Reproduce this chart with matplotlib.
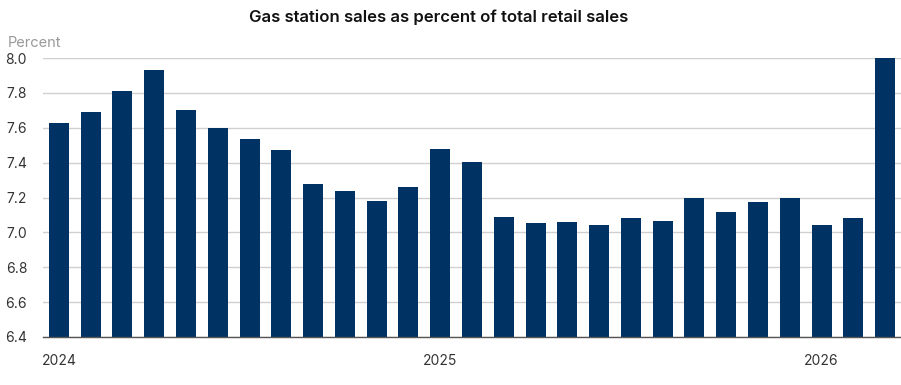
import matplotlib
matplotlib.use("Agg")
import matplotlib.pyplot as plt
import numpy as np

months = list(range(27))
values = [7.63, 7.69, 7.81, 7.93, 7.70, 7.60, 7.535, 7.47,
          7.28, 7.24, 7.18, 7.26, 7.48, 7.405, 7.09, 7.055,
          7.06, 7.04, 7.08, 7.065, 7.20, 7.115, 7.175, 7.20,
          7.045, 7.085, 8.0]
tick_pos = [0, 12, 24]
tick_labels = ["2024", "2025", "2026"]
yticks = [6.4, 6.6, 6.8, 7.0, 7.2, 7.4, 7.6, 7.8, 8.0]

plt.rcParams['font.family'] = ['Inter', 'DejaVu Sans']

fig = plt.figure(figsize=(9.01, 3.85), dpi=100)
ax = fig.add_axes([43/901, 1-337/385, (901-43)/901, (337-58)/385])

ax.bar(months, values, width=0.63, color="#003263", zorder=3)
ax.set_xlim(-0.5, 26.5)
ax.set_ylim(6.4, 8.0)
ax.set_yticks(yticks)
ax.set_yticklabels([f"{v:.1f}" for v in yticks], fontsize=10, color="#333333")
ax.set_xticks(tick_pos)
ax.set_xticklabels(tick_labels, fontsize=10, color="#333333")
ax.tick_params(axis='both', length=0)
ax.tick_params(axis='y', pad=11.5)
ax.tick_params(axis='x', pad=12)
ax.grid(axis='y', color="#d0d0d0", linewidth=1, zorder=0)
for s in ['top', 'right', 'left']:
    ax.spines[s].set_visible(False)
ax.spines['bottom'].set_color("#555555")
ax.spines['bottom'].set_linewidth(1)
ax.spines['bottom'].set_zorder(4)

fig.text(8/901, 1-43/385, "Percent", fontsize=10.5, color="#999999", va='center', ha='left')
fig.text(439/901, 1-17/385, "Gas station sales as percent of total retail sales",
         fontsize=12, fontweight='semibold', color="#111111", ha='center', va='center')

fig.savefig("out.png", dpi=100)
